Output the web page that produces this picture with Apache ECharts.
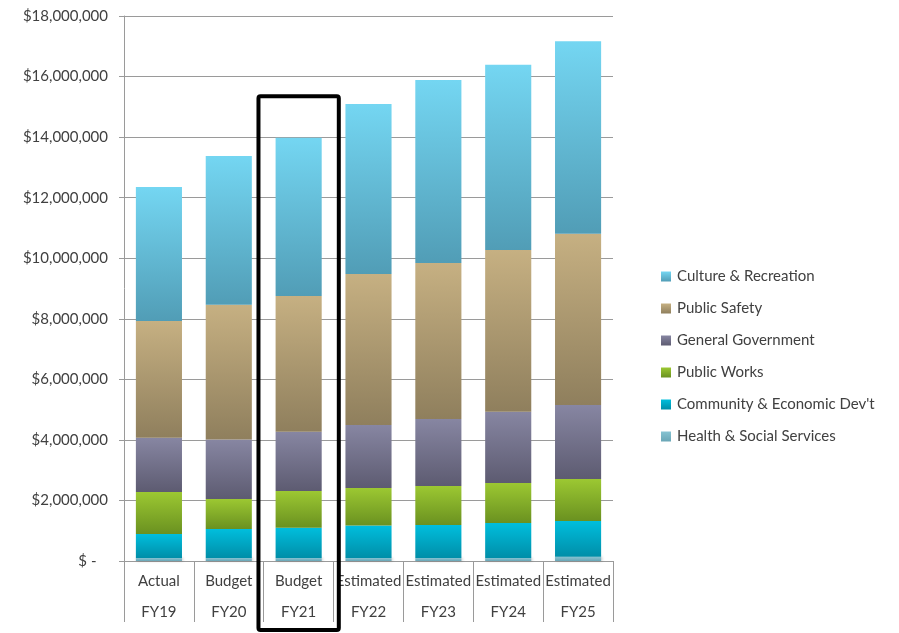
<html>
<head>
    <meta http-equiv="content-type" content="text/html; charset=utf-8">
    <title>Expenditures by Function</title>
    <script src="https://cdn.jsdelivr.net/npm/echarts@6/dist/echarts.min.js"></script>
    <style>
        body { margin: 0; background: #fff; }
        #chart { width: 899px; height: 633px; }
    </style>
</head>
<body>
    <div id="chart"></div>
    <script type="text/javascript">
        // categories (two label lines)
        var stages = ['Actual', 'Budget', 'Budget', 'Estimated', 'Estimated', 'Estimated', 'Estimated'];
        var years = ['FY19', 'FY20', 'FY21', 'FY22', 'FY23', 'FY24', 'FY25'];

        // series values, bottom of the stack first
        var health = [100000, 100000, 100000, 100000, 100000, 100000, 140000];
        var community = [790000, 960000, 1000000, 1070000, 1090000, 1155000, 1180000];
        var publicWorks = [1390000, 990000, 1210000, 1240000, 1290000, 1325000, 1390000];
        var generalGov = [1790000, 1960000, 1960000, 2080000, 2210000, 2350000, 2440000];
        var publicSafety = [3860000, 4450000, 4480000, 4990000, 5150000, 5340000, 5660000];
        var culture = [4420000, 4920000, 5230000, 5610000, 6050000, 6120000, 6360000];

        var highlighted = 'FY21';

        function grad(top, bottom) {
            return new echarts.graphic.LinearGradient(0, 0, 0, 1, [
                { offset: 0, color: top },
                { offset: 1, color: bottom }
            ]);
        }

        function money(v) {
            if (v === 0) return '$ -   ';
            return '$' + v.toLocaleString('en-US');
        }

        var font = 'Lato, "Open Sans", sans-serif';
        var seriesDefs = [
            ['Health & Social Services', health, '#86c3d2', '#6aa6b6'],
            ['Community & Economic Dev\'t', community, '#00bedd', '#008ea8'],
            ['Public Works', publicWorks, '#9cc832', '#6a9120'],
            ['General Government', generalGov, '#8786a2', '#5d5b71'],
            ['Public Safety', publicSafety, '#c6b082', '#8f7f5d'],
            ['Culture & Recreation', culture, '#74d6f2', '#519db6']
        ];

        var series = seriesDefs.map(function(d) {
            return {
                name: d[0],
                type: 'bar',
                stack: 'total',
                barWidth: '66%',
                data: d[1],
                itemStyle: {
                    color: grad(d[2], d[3]),
                    shadowColor: 'rgba(0,0,0,0.22)',
                    shadowBlur: 3,
                    shadowOffsetX: 1
                }
            };
        });

        var chart = echarts.init(document.getElementById('chart'));
        chart.setOption({
            animation: false,
            backgroundColor: '#ffffff',
            textStyle: { fontFamily: font },
            grid: { left: 124, right: 286, top: 16, bottom: 72 },
            legend: {
                orient: 'vertical',
                left: 656,
                top: 264,
                itemWidth: 10,
                itemHeight: 10,
                itemGap: 17,
                icon: 'rect',
                data: seriesDefs.map(function(d) { return d[0]; }).reverse(),
                textStyle: { fontFamily: font, fontSize: 15, color: '#404040', padding: [0, 0, 0, 1] }
            },
            xAxis: {
                type: 'category',
                data: stages.map(function(s, i) { return s + '\n' + years[i]; }),
                axisLine: { lineStyle: { color: '#9a9a9a', width: 1 } },
                axisTick: { show: true, interval: 0, length: 61, lineStyle: { color: '#9a9a9a' } },
                axisLabel: {
                    interval: 0,
                    margin: 5,
                    fontFamily: font,
                    fontSize: 15,
                    lineHeight: 31,
                    color: '#404040'
                }
            },
            yAxis: {
                type: 'value',
                min: 0,
                max: 18000000,
                interval: 2000000,
                axisLine: { show: true, lineStyle: { color: '#9a9a9a' } },
                axisTick: { show: true, length: 5, lineStyle: { color: '#9a9a9a' } },
                splitLine: { lineStyle: { color: '#9a9a9a', width: 1 } },
                axisLabel: {
                    margin: 16,
                    fontFamily: font,
                    fontSize: 15,
                    color: '#404040',
                    formatter: money
                }
            },
            series: series
        });

        // outline box around the highlighted year, placed from the axes
        var idx = years.indexOf(highlighted);
        var cx = chart.convertToPixel({ xAxisIndex: 0 }, idx);
        var band = chart.convertToPixel({ xAxisIndex: 0 }, 1) - chart.convertToPixel({ xAxisIndex: 0 }, 0);
        var topY = chart.convertToPixel({ yAxisIndex: 0 }, 15350000);
        var baseY = chart.convertToPixel({ yAxisIndex: 0 }, 0);
        chart.setOption({
            graphic: [{
                type: 'rect',
                shape: { x: cx - band * 0.575, y: topY, width: band * 1.15, height: baseY + 69 - topY, r: 2 },
                style: { fill: 'none', stroke: '#000', lineWidth: 4 },
                z: 100
            }]
        });
    </script>
</body>
</html>
